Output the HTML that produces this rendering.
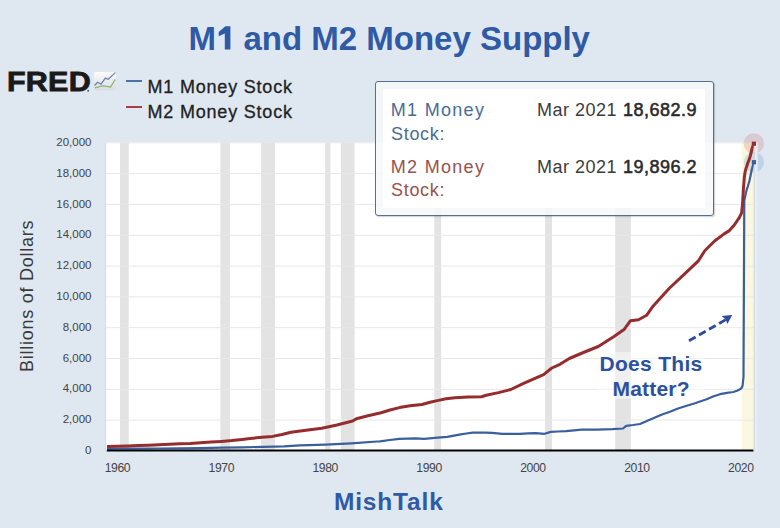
<!DOCTYPE html>
<html><head><meta charset="utf-8"><style>
*{margin:0;padding:0;box-sizing:border-box}
html,body{width:780px;height:528px;overflow:hidden;background:#dfe8f1;font-family:"Liberation Sans",sans-serif;position:relative}
.a{position:absolute;white-space:nowrap;line-height:1}
.yl{position:absolute;right:688.5px;font-size:11.5px;color:#444;line-height:1;text-align:right}
.xl{position:absolute;width:40px;text-align:center;top:462.0px;font-size:12.2px;letter-spacing:-0.4px;color:#444;line-height:1}
svg{position:absolute;left:0;top:0}
</style></head><body>
<div class="a" style="left:-0.8px;width:780px;text-align:center;top:21.7px;font-size:33px;font-weight:bold;color:#2f5aa5">M<span style="display:inline-block;width:18.35px;height:23.6px;position:relative"><svg width="18.35" height="23.6" viewBox="0 0 18.35 23.6" style="position:absolute;left:0;top:0;overflow:visible"><polygon points="2.7,6.0 9.4,0.2 14.4,0.2 14.4,23.6 8.8,23.6 8.8,7.6 2.7,10.2" fill="#2f5aa5"/></svg></span> and M2 Money Supply</div>
<svg width="780" height="528" viewBox="0 0 780 528">
<rect x="105.5" y="142.2" width="648.0" height="308.7" fill="#fff"/><rect x="120.0" y="142.2" width="8.7" height="308.7" fill="#e3e3e3"/><rect x="220.4" y="142.2" width="9.5" height="308.7" fill="#e3e3e3"/><rect x="261.1" y="142.2" width="13.9" height="308.7" fill="#e3e3e3"/><rect x="325.2" y="142.2" width="5.2" height="308.7" fill="#e3e3e3"/><rect x="340.8" y="142.2" width="13.8" height="308.7" fill="#e3e3e3"/><rect x="434.3" y="142.2" width="6.9" height="308.7" fill="#e3e3e3"/><rect x="545.1" y="142.2" width="6.9" height="308.7" fill="#e3e3e3"/><rect x="615.2" y="142.2" width="15.6" height="308.7" fill="#e3e3e3"/><rect x="741.7" y="142.2" width="11.8" height="308.7" fill="#fbf8e1"/><line x1="105.5" x2="753.5" y1="420.1" y2="420.1" stroke="#e8e8e8" stroke-width="1"/><line x1="105.5" x2="753.5" y1="389.3" y2="389.3" stroke="#e8e8e8" stroke-width="1"/><line x1="105.5" x2="753.5" y1="358.5" y2="358.5" stroke="#e8e8e8" stroke-width="1"/><line x1="105.5" x2="753.5" y1="327.7" y2="327.7" stroke="#e8e8e8" stroke-width="1"/><line x1="105.5" x2="753.5" y1="296.9" y2="296.9" stroke="#e8e8e8" stroke-width="1"/><line x1="105.5" x2="753.5" y1="266.1" y2="266.1" stroke="#e8e8e8" stroke-width="1"/><line x1="105.5" x2="753.5" y1="235.3" y2="235.3" stroke="#e8e8e8" stroke-width="1"/><line x1="105.5" x2="753.5" y1="204.4" y2="204.4" stroke="#e8e8e8" stroke-width="1"/><line x1="105.5" x2="753.5" y1="173.6" y2="173.6" stroke="#e8e8e8" stroke-width="1"/><line x1="105.5" x2="753.5" y1="142.8" y2="142.8" stroke="#e8e8e8" stroke-width="1"/><circle cx="753.8" cy="143.5" r="10.2" fill="#c86a6e" fill-opacity="0.24"/><circle cx="753.8" cy="162.2" r="10.2" fill="#5f8fc8" fill-opacity="0.24"/><polyline points="107.0,448.8 117.4,448.7 138.2,448.7 159.0,448.5 179.8,448.3 200.6,448.1 221.5,447.7 242.3,447.4 263.0,446.8 284.0,446.4 300.0,445.4 325.6,444.6 351.3,443.3 376.9,441.5 380.0,441.3 389.7,440.0 399.2,438.9 415.4,438.3 424.2,438.8 437.7,437.7 447.3,436.9 460.8,434.4 466.4,433.5 472.8,432.6 485.6,432.6 492.0,432.8 502.3,433.8 511.3,433.8 520.0,433.8 528.0,433.4 535.4,433.2 544.6,433.8 550.8,431.9 558.0,431.5 566.2,431.2 574.0,430.3 581.5,429.6 596.9,429.6 612.3,429.2 623.0,428.5 626.2,425.8 633.0,425.0 640.0,424.0 648.0,420.5 655.0,417.5 662.0,414.5 670.0,411.7 678.0,408.5 686.7,405.8 695.0,403.3 700.0,401.5 706.7,399.2 713.0,396.5 720.0,394.2 727.0,392.8 733.3,392.0 737.0,390.8 740.0,389.2 741.6,388.0 742.6,385.5 743.5,377.0 744.3,200.5 745.1,196.8 746.0,192.6 746.9,189.1 747.7,186.8 748.6,183.7 749.5,180.6 750.4,176.3 751.2,172.2 752.1,168.3 753.8,162.2" fill="none" stroke="#3a5f9c" stroke-width="2.2" stroke-linejoin="round" stroke-linecap="butt"/><polyline points="107.0,446.4 117.4,446.2 127.8,446.0 138.2,445.6 148.6,445.2 159.0,444.7 169.4,444.2 179.8,443.7 190.2,443.4 200.6,442.7 211.0,442.0 221.5,441.4 231.9,440.6 242.3,439.4 250.0,438.5 262.0,437.3 272.6,436.4 282.0,434.5 291.0,432.3 306.0,430.2 321.8,428.2 337.0,425.0 352.6,421.0 356.4,418.8 368.0,415.8 381.0,412.7 390.0,410.0 399.5,407.6 410.0,405.8 422.0,404.5 430.0,402.3 438.5,400.4 446.0,398.8 454.9,397.7 468.0,397.1 481.5,396.7 486.2,395.2 498.5,392.6 510.8,389.5 523.1,383.7 533.3,379.2 543.6,374.7 551.8,368.0 560.0,364.3 569.3,358.5 582.2,353.0 598.3,346.5 614.4,336.2 624.0,329.6 630.5,320.7 638.5,319.8 646.6,315.3 653.0,306.2 669.1,288.5 685.2,273.4 698.1,261.2 704.8,250.8 714.6,241.0 724.5,233.6 729.4,230.6 734.3,225.0 739.3,217.6 741.6,212.8 742.5,204.5 743.4,189.1 744.3,177.5 745.1,172.0 746.0,168.3 746.9,166.0 747.7,163.3 748.6,161.0 749.5,158.6 750.4,155.6 751.2,152.1 752.1,148.3 753.8,143.8" fill="none" stroke="#952d2f" stroke-width="3" stroke-linejoin="round" stroke-linecap="butt"/><line x1="106.8" x2="753.5" y1="450.5" y2="450.5" stroke="#000" stroke-width="2"/><line x1="754.2" x2="754.2" y1="142.2" y2="451.5" stroke="#cdd3d6" stroke-width="1"/><rect x="754.7" y="142.2" width="3" height="309.3" fill="#e5ecf2"/><line x1="105.6" x2="105.6" y1="142.2" y2="451.5" stroke="#d3dae0" stroke-width="1"/><rect x="751.8" y="141.6" width="4.2" height="4.2" fill="#952d2f"/><rect x="751.8" y="160.1" width="4.2" height="4.2" fill="#3a5f9c"/><line x1="689" y1="340.8" x2="726" y2="319.5" stroke="#2c4ba0" stroke-width="2.8" stroke-dasharray="7.6 4"/><polygon points="732.2,315.0 721.6,316.0 725.6,319.2 727.4,324.0" fill="#2c4ba0"/>
</svg>
<div class="yl" style="top:445.0px">0</div><div class="yl" style="top:414.2px">2,000</div><div class="yl" style="top:383.4px">4,000</div><div class="yl" style="top:352.5px">6,000</div><div class="yl" style="top:321.7px">8,000</div><div class="yl" style="top:290.9px">10,000</div><div class="yl" style="top:260.1px">12,000</div><div class="yl" style="top:229.3px">14,000</div><div class="yl" style="top:198.5px">16,000</div><div class="yl" style="top:167.7px">18,000</div><div class="yl" style="top:136.9px">20,000</div>
<div class="xl" style="left:97.4px">1960</div><div class="xl" style="left:201.3px">1970</div><div class="xl" style="left:305.2px">1980</div><div class="xl" style="left:409.1px">1990</div><div class="xl" style="left:513.0px">2000</div><div class="xl" style="left:616.9px">2010</div><div class="xl" style="left:720.8px">2020</div>
<div class="a" style="left:18.0px;top:372px;transform-origin:0 0;transform:rotate(-90deg);font-size:18px;letter-spacing:0.75px;color:#3a3a3a">Billions of Dollars</div>
<!-- FRED logo -->
<div class="a" style="left:7px;top:68.5px;font-size:27px;font-weight:bold;color:#1a1a1a;letter-spacing:0.2px;-webkit-text-stroke:0.8px #1a1a1a;transform-origin:0 0;transform:scaleX(1.13)">FRED</div>
<svg width="780" height="528" viewBox="0 0 780 528" style="pointer-events:none">
<defs><linearGradient id="ig" x1="0" y1="0" x2="0" y2="1"><stop offset="0" stop-color="#fbfbfb"/><stop offset="1" stop-color="#d8dde3"/></linearGradient></defs>
<circle cx="88.2" cy="90.7" r="1" fill="#5a6270"/>
<rect x="94" y="72" width="22" height="18.5" rx="2" fill="url(#ig)"/>
<polyline points="94.5,85.5 97.7,82.2 101,84.2 105.5,78 108.2,79.3 115.3,72.6" fill="none" stroke="#7186a8" stroke-width="1.3" stroke-linejoin="round"/>
<polyline points="94.8,87.8 98.8,86.8 102.5,85.8 105.5,86.2 110.5,87.2 115.3,79.4" fill="none" stroke="#93b574" stroke-width="1.3" stroke-linejoin="round"/>
</svg>
<!-- legend -->
<div class="a" style="left:125.8px;top:79.5px;width:16.6px;height:2px;background:#4a72a8"></div>
<div class="a" style="left:125.8px;top:105.9px;width:16.6px;height:2px;background:#a8403e"></div>
<div class="a" style="left:147.5px;top:77.8px;font-size:18px;letter-spacing:0.8px;color:#222;-webkit-text-stroke:0.3px #222">M1 Money Stock</div>
<div class="a" style="left:147.5px;top:103.3px;font-size:18px;letter-spacing:0.8px;color:#222;-webkit-text-stroke:0.3px #222">M2 Money Stock</div>
<!-- tooltip -->
<div class="a" style="left:375.3px;top:80.8px;width:338.7px;height:135.4px;border-radius:3px;border:1.5px solid #5a6d8c;background:rgba(247,248,250,0.85);box-shadow:1px 1px 1.5px rgba(0,0,0,0.2)"></div>
<div class="a" style="left:383px;top:89px;width:322px;height:119px;background:#fff"></div>
<div class="a" style="left:390.8px;top:100.5px;font-size:18px;letter-spacing:1.3px;color:#4a6c96">M1 Money</div>
<div class="a" style="left:391px;top:124.5px;font-size:18px;letter-spacing:0.7px;color:#4a6c96">Stock:</div>
<div class="a" style="left:390.8px;top:157.6px;font-size:18px;letter-spacing:1.3px;color:#96524e">M2 Money</div>
<div class="a" style="left:391px;top:181.2px;font-size:18px;letter-spacing:0.7px;color:#96524e">Stock:</div>
<div class="a" style="left:537px;top:100.5px;font-size:18px;letter-spacing:0.5px;color:#3c3c3c">Mar 2021 <b style="font-weight:normal;color:#2a2a2a;-webkit-text-stroke:0.55px #2a2a2a;margin-left:0.5px;letter-spacing:0.5px">18,682.9</b></div>
<div class="a" style="left:537px;top:157.6px;font-size:18px;letter-spacing:0.5px;color:#3c3c3c">Mar 2021 <b style="font-weight:normal;color:#2a2a2a;-webkit-text-stroke:0.55px #2a2a2a;margin-left:0.5px;letter-spacing:0.5px">19,896.2</b></div>
<!-- annotation -->
<div class="a" style="left:598px;top:352px;width:106px;height:47px;background:rgba(255,255,255,0.45)"></div>
<div class="a" style="left:597.5px;top:352.7px;font-size:21px;font-weight:bold;letter-spacing:0.3px;color:#2c519e;padding:0 2px">Does This</div>
<div class="a" style="left:610.5px;top:377.6px;font-size:21px;font-weight:bold;letter-spacing:0.2px;color:#2c519e;padding:0 2px">Matter?</div>
<div class="a" style="left:-1.2px;width:780px;text-align:center;top:490.1px;font-size:24.5px;font-weight:bold;letter-spacing:0.85px;color:#2f5aa5">MishTalk</div>
</body></html>
